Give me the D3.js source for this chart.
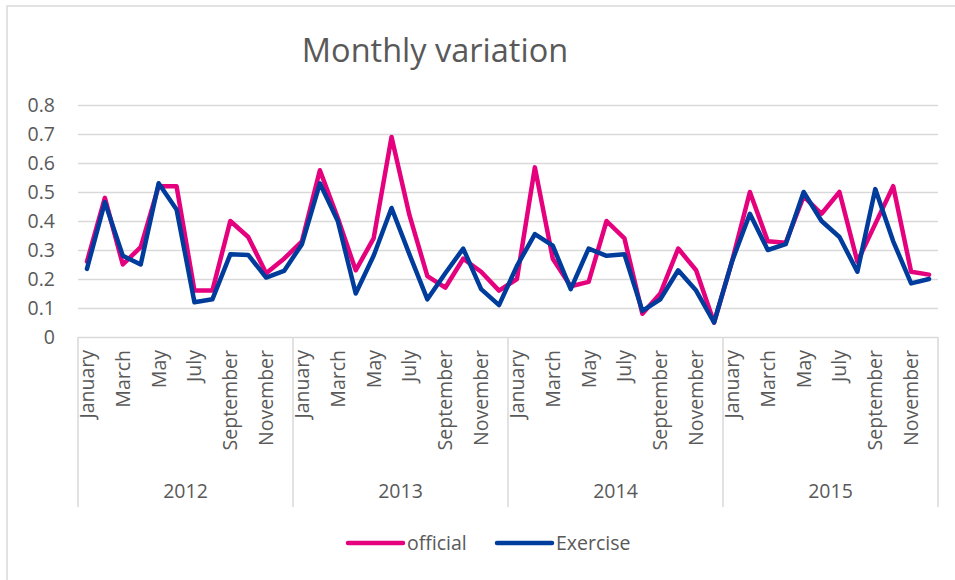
<!DOCTYPE html>
<html>
<head>
<meta charset="utf-8">
<script src="https://cdn.jsdelivr.net/npm/d3@7"></script>
<style>
  body { margin: 0; background: #fff; }
  svg text { font-family: "Open Sans", sans-serif; fill: #595959; }
</style>
</head>
<body>
<div id="chart"></div>
<script>
var months = ["January", "February", "March", "April", "May", "June",
  "July", "August", "September", "October", "November", "December"];
var years = ["2012", "2013", "2014", "2015"];
var yTicks = [0, 0.1, 0.2, 0.3, 0.4, 0.5, 0.6, 0.7, 0.8];

var official = [
  0.26, 0.48, 0.25, 0.31, 0.52, 0.52, 0.16, 0.16, 0.40, 0.345, 0.22, 0.27,
  0.33, 0.575, 0.41, 0.23, 0.34, 0.69, 0.42, 0.21, 0.17, 0.27, 0.225, 0.16,
  0.20, 0.585, 0.27, 0.175, 0.19, 0.40, 0.34, 0.08, 0.15, 0.305, 0.23, 0.05,
  0.26, 0.50, 0.33, 0.325, 0.485, 0.425, 0.50, 0.26, 0.39, 0.52, 0.225, 0.215
];
var exercise = [
  0.235, 0.465, 0.28, 0.25, 0.53, 0.44, 0.12, 0.13, 0.285, 0.283, 0.205, 0.228,
  0.32, 0.53, 0.40, 0.15, 0.28, 0.445, 0.285, 0.13, 0.22, 0.305, 0.165, 0.11,
  0.245, 0.355, 0.315, 0.165, 0.305, 0.28, 0.285, 0.09, 0.13, 0.23, 0.16, 0.05,
  0.26, 0.425, 0.30, 0.32, 0.50, 0.40, 0.345, 0.225, 0.51, 0.33, 0.185, 0.20
];

var series = [
  { name: "official", values: official, color: "#e5007d" },
  { name: "Exercise", values: exercise, color: "#003c9b" }
];

var width = 955, height = 580;
var plotLeft = 78, plotRight = 938, plotTop = 105, plotBottom = 337;
var grid = "#d9d9d9";

var svg = d3.select("#chart").append("svg")
  .attr("width", width)
  .attr("height", height);

// chart border
svg.append("rect")
  .attr("x", 7).attr("y", 6)
  .attr("width", width).attr("height", height)
  .attr("fill", "none")
  .attr("stroke", grid)
  .attr("stroke-width", 1.5);

svg.append("text")
  .attr("x", 435).attr("y", 62)
  .attr("text-anchor", "middle")
  .style("font-size", "32.5px")
  .text("Monthly variation");

var idx = d3.range(years.length * months.length);

var x = d3.scaleBand().domain(idx).range([plotLeft, plotRight]);
var xYear = d3.scaleBand().domain(years).range([plotLeft, plotRight]);
var y = d3.scaleLinear().domain([0, 0.8]).range([plotBottom, plotTop]);

function cx(i) {
  return x(i) + x.bandwidth() / 2;
}

// y axis with gridlines
var yAxis = svg.append("g")
  .attr("transform", "translate(" + plotLeft + ",0)")
  .call(d3.axisLeft(y).tickValues(yTicks).tickSize(-(plotRight - plotLeft)).tickPadding(23)
    .tickFormat(function(d) { return d === 0 ? "0" : d3.format(".1f")(d); }));
yAxis.attr("font-family", null);
yAxis.select(".domain").remove();
yAxis.selectAll("line").attr("stroke", grid).attr("stroke-width", 1.5);
yAxis.selectAll("text")
  .attr("fill", "#595959")
  .style("font-size", "19.5px");

// month labels
var xAxis = svg.append("g")
  .attr("transform", "translate(0," + plotBottom + ")")
  .call(d3.axisBottom(x).tickSize(0)
    .tickFormat(function(i) { return i % 2 === 0 ? months[i % 12] : ""; }));
xAxis.attr("font-family", null);
xAxis.select(".domain").remove();
xAxis.selectAll("text")
  .attr("transform", "rotate(-90)")
  .attr("x", -13)
  .attr("y", 0)
  .attr("dy", "0.36em")
  .attr("text-anchor", "end")
  .attr("fill", "#595959")
  .style("font-size", "19.5px");

// year boundaries
svg.selectAll(".yearline")
  .data(years.concat(["end"]))
  .enter()
  .append("line")
  .attr("class", "yearline")
  .attr("x1", function(d, i) { return plotLeft + i * xYear.bandwidth(); })
  .attr("x2", function(d, i) { return plotLeft + i * xYear.bandwidth(); })
  .attr("y1", plotBottom)
  .attr("y2", 507)
  .attr("stroke", grid)
  .attr("stroke-width", 1.5);

svg.selectAll(".yearlabel")
  .data(years)
  .enter()
  .append("text")
  .attr("class", "yearlabel")
  .attr("x", function(d) { return xYear(d) + xYear.bandwidth() / 2; })
  .attr("y", 498)
  .attr("text-anchor", "middle")
  .style("font-size", "19.5px")
  .text(function(d) { return d; });

// lines
var line = d3.line()
  .x(function(d, i) { return cx(i); })
  .y(function(d) { return y(d); });

svg.selectAll(".series")
  .data(series)
  .enter()
  .append("path")
  .attr("class", "series")
  .attr("d", function(d) { return line(d.values); })
  .attr("fill", "none")
  .attr("stroke", function(d) { return d.color; })
  .attr("stroke-width", 4.5)
  .attr("stroke-linejoin", "round")
  .attr("stroke-linecap", "round");

// legend
var legendX = [348, 497];
var legend = svg.selectAll(".legend")
  .data(series)
  .enter()
  .append("g")
  .attr("class", "legend")
  .attr("transform", function(d, i) { return "translate(" + legendX[i] + ",543)"; });

legend.append("line")
  .attr("x1", 0).attr("x2", 55)
  .attr("stroke", function(d) { return d.color; })
  .attr("stroke-width", 4.5)
  .attr("stroke-linecap", "round");

legend.append("text")
  .attr("x", 59)
  .attr("dy", "0.35em")
  .style("font-size", "19.5px")
  .text(function(d) { return d.name; });
</script>
</body>
</html>
